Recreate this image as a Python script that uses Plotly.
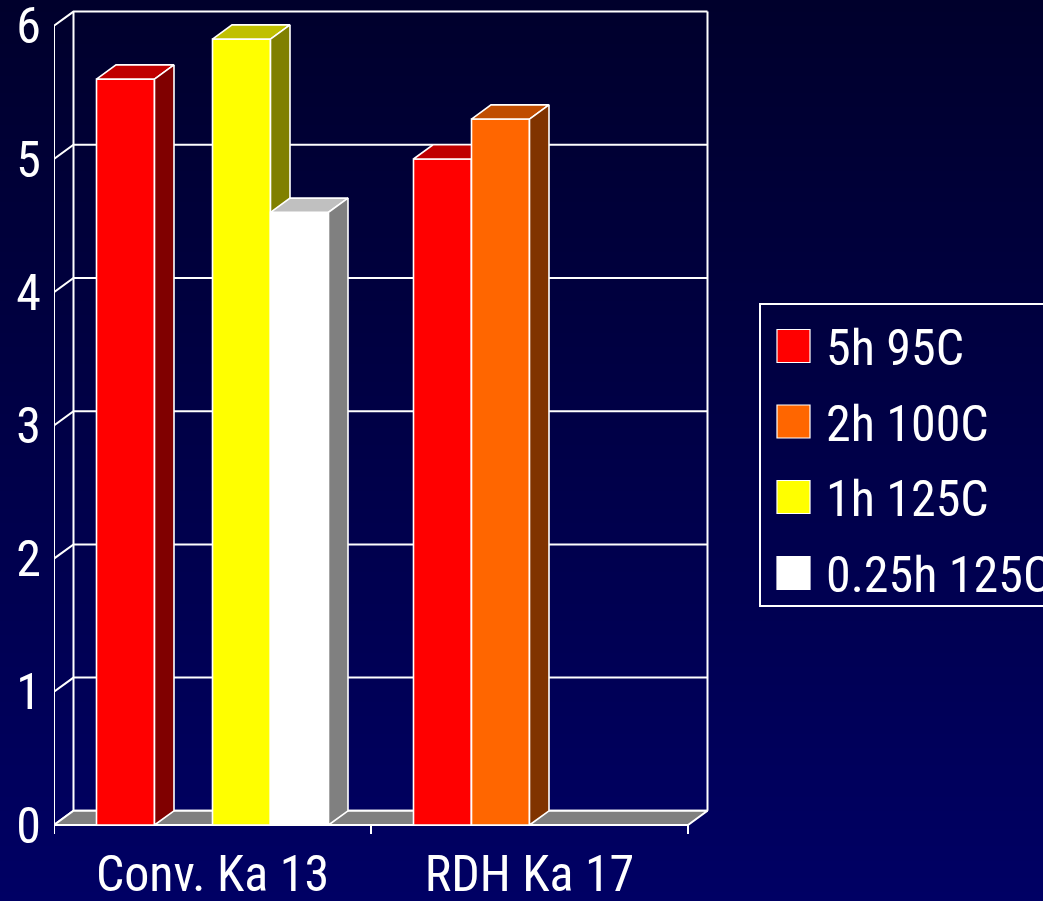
import zlib, struct, base64
import plotly.graph_objects as go

# ---------------- data ----------------
categories = ["Conv. Ka 13", "RDH Ka 17"]
series_names = ["5h 95C", "2h 100C", "1h 125C", "0.25h 125C"]
values_5h_95C = [5.6, 5.0]
values_2h_100C = [None, 5.3]
values_1h_125C = [5.9, None]
values_025h_125C = [4.6, None]
series_values = [values_5h_95C, values_2h_100C, values_1h_125C, values_025h_125C]
y_ticks = [0, 1, 2, 3, 4, 5, 6]

# ---------------- style ----------------
front_colors = ["#FF0000", "#FF6600", "#FFFF00", "#FFFFFF"]
top_colors = ["#C00000", "#C04D00", "#C0C000", "#C0C0C0"]
side_colors = ["#800000", "#803300", "#808000", "#808080"]
FONT = "Liberation Sans Narrow, Arial Narrow, Roboto Condensed, sans-serif"

W, H = 1043, 901
L, R, T, B = 54, 730, 4, 837
ZERO_PX = 825          # pixel row of front y=0
SX = 317.0             # px per category
SY = 133.2             # px per value unit
DXP, DYP = 19.5, 14.2  # 3-D depth offset in px
dxu = DXP / SX
dyu = DYP / SY
xr = [-0.5, -0.5 + (R - L) / SX]
yr = [-(B - ZERO_PX) / SY, (ZERO_PX - T) / SY]
slot = 58.0 / SX
n_series = len(series_names)


def px(x):
    return (x - L) / (R - L)


def py(y):
    return (B - y) / (B - T)


def gradient_png(top, bottom, h=256):
    raw = b""
    for i in range(h):
        t = i / (h - 1)
        raw += b"\x00" + bytes(round(top[k] + (bottom[k] - top[k]) * t) for k in range(3))

    def chunk(tag, data):
        c = struct.pack(">I", len(data)) + tag + data
        return c + struct.pack(">I", zlib.crc32(tag + data) & 0xFFFFFFFF)

    png = (b"\x89PNG\r\n\x1a\n"
           + chunk(b"IHDR", struct.pack(">IIBBBBB", 1, h, 8, 2, 0, 0, 0))
           + chunk(b"IDAT", zlib.compress(raw))
           + chunk(b"IEND", b""))
    return "data:image/png;base64," + base64.b64encode(png).decode()


fig = go.Figure()


def add_line(xs, ys, width=2):
    fig.add_trace(go.Scatter(x=xs, y=ys, mode="lines", line=dict(color="white", width=width),
                             hoverinfo="skip", showlegend=False))


def add_poly(xs, ys, color, width=1.6):
    fig.add_trace(go.Scatter(x=xs, y=ys, mode="lines", fill="toself", fillcolor=color,
                             line=dict(color="white", width=width), hoverinfo="skip",
                             showlegend=False))


x0, x1 = -0.5, -0.5 + len(categories)
ymax = max(y_ticks)

# back wall gridlines + left wall diagonals
gx, gy = [], []
for v in y_ticks:
    gx += [x0, x0 + dxu, x1 + dxu, None]
    gy += [v, v + dyu, v + dyu, None]
gx += [x0 + dxu, x0 + dxu, None, x1 + dxu, x1 + dxu, None]
gy += [dyu, ymax + dyu, None, dyu, ymax + dyu, None]
add_line(gx, gy)

# floor
add_poly([x0, x1, x1 + dxu, x0 + dxu, x0], [0, 0, dyu, dyu, 0], "#808080", 2)

# front axis lines, value ticks and category ticks
tick_d = 9 / SY
tick_w = 9 / SX
ax_x = [x0, x0, None, x0, x1, None]
ax_y = [ymax, -tick_d, None, 0, 0, None]
for k in range(len(categories) + 1):
    ax_x += [x0 + k, x0 + k, None]
    ax_y += [0, -tick_d, None]
for v in y_ticks:
    ax_x += [x0 - tick_w, x0, None]
    ax_y += [v, v, None]
fig.add_trace(go.Scatter(x=ax_x, y=ax_y, mode="lines", line=dict(color="white", width=2),
                         hoverinfo="skip", showlegend=False, cliponaxis=False))

# 3-D bars
for s in range(n_series):
    fx, fy, tx, ty, sx_, sy_ = [], [], [], [], [], []
    for c, v in enumerate(series_values[s]):
        if v is None:
            continue
        a = c - 2 * slot + s * slot
        b = a + slot
        fx += [a, b, b, a, a, None]
        fy += [0, 0, v, v, 0, None]
        tx += [a, b, b + dxu, a + dxu, a, None]
        ty += [v, v, v + dyu, v + dyu, v, None]
        sx_ += [b, b + dxu, b + dxu, b, b, None]
        sy_ += [0, dyu, v + dyu, v, 0, None]
    if fx:
        add_poly(fx, fy, front_colors[s])
        add_poly(tx, ty, top_colors[s])
        add_poly(sx_, sy_, side_colors[s])

# manual legend
shapes = [dict(type="rect", xref="paper", yref="paper", x0=px(760), x1=px(1060),
               y0=py(304), y1=py(606), line=dict(color="white", width=2),
               fillcolor="rgba(0,0,0,0)", layer="above")]
annotations = []
row_y = [346, 421.5, 497, 573]
for i, name in enumerate(series_names):
    cy = row_y[i]
    shapes.append(dict(type="rect", xref="paper", yref="paper", x0=px(777), x1=px(810),
                       y0=py(cy - 16.5), y1=py(cy + 16.5), fillcolor=front_colors[i],
                       line=dict(color="white", width=1.2), layer="above"))
    annotations.append(dict(text=name, xref="paper", yref="paper", x=px(824), y=py(cy + 2),
                            xanchor="left", yanchor="middle", showarrow=False,
                            font=dict(family=FONT, size=50, color="white")))

fig.update_layout(
    width=W, height=H,
    margin=dict(l=L, r=W - R, t=T, b=H - B, autoexpand=False),
    paper_bgcolor="#000048",
    plot_bgcolor="rgba(0,0,0,0)",
    showlegend=False,
    shapes=shapes,
    annotations=annotations,
    images=[dict(source=gradient_png((0, 0, 44), (0, 0, 100)), xref="paper", yref="paper",
                 x=px(0), y=py(0), sizex=W / (R - L), sizey=H / (B - T),
                 xanchor="left", yanchor="top", sizing="stretch", layer="below")],
    xaxis=dict(range=xr, tickmode="array", tickvals=list(range(len(categories))),
               ticktext=categories, ticks="", showgrid=False, zeroline=False, showline=False,
               automargin=False, ticklabeloverflow="allow", ticklabelstandoff=3,
               tickfont=dict(family=FONT, size=50, color="white"), fixedrange=True),
    yaxis=dict(range=yr, tickmode="array", tickvals=y_ticks, ticktext=[str(v) for v in y_ticks],
               ticks="", showgrid=False, zeroline=False, showline=False,
               automargin=False, ticklabeloverflow="allow", ticklabelstandoff=12,
               tickfont=dict(family=FONT, size=50, color="white"), fixedrange=True),
)

fig.write_html("out.html", config={"displayModeBar": False},
               post_script="document.body.style.margin='0';")
